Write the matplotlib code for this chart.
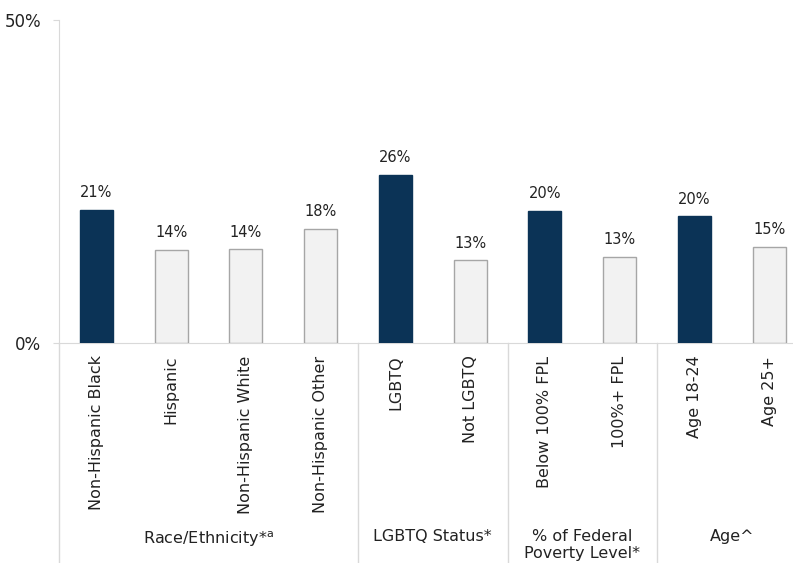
import matplotlib
matplotlib.use('Agg')
import matplotlib.pyplot as plt
import matplotlib.transforms as mtransforms

# Bar data (heights, labels as printed)
categories = ['Non-Hispanic Black', 'Hispanic', 'Non-Hispanic White', 'Non-Hispanic Other',
              'LGBTQ', 'Not LGBTQ', 'Below 100% FPL', '100%+ FPL', 'Age 18-24', 'Age 25+']
values = [20.6, 14.4, 14.5, 17.7, 26.0, 12.8, 20.4, 13.3, 19.6, 14.9]
value_labels = ['21%', '14%', '14%', '18%', '26%', '13%', '20%', '13%', '20%', '15%']
highlight = [True, False, False, False, True, False, True, False, True, False]

groups = ['Race/Ethnicity*$^{\\mathregular{a}}$', 'LGBTQ Status*',
          '% of Federal\nPoverty Level*', 'Age^']
group_sizes = [4, 2, 2, 2]

dark = '#0b3356'
light = '#f2f2f2'
edge_light = '#a6a6a6'
grid_grey = '#d9d9d9'
text_col = '#222222'

plt.rcParams['font.family'] = ['DejaVu Sans']

fig = plt.figure(figsize=(7.93, 5.63), dpi=100)
ax = fig.add_axes([59 / 793, 220 / 563, 747.5 / 793, 323 / 563])

x = list(range(len(categories)))
colors = [dark if h else light for h in highlight]
edges = [dark if h else edge_light for h in highlight]
ax.bar(x, values, width=0.44, color=colors, edgecolor=edges, linewidth=1.0, zorder=3)

for xi, v, lab in zip(x, values, value_labels):
    ax.annotate(lab, (xi, v), xytext=(0, 7), textcoords='offset points',
                ha='center', va='bottom', fontsize=10.5, color=text_col)

ax.set_xlim(-0.5, len(categories) - 0.5)
ax.set_ylim(0, 50)
ax.set_yticks([0, 50])
ax.set_yticklabels(['0%', '50%'], fontsize=12, color=text_col)
ax.tick_params(axis='y', length=4, color=grid_grey, pad=9)

ax.set_xticks(x)
ax.set_xticklabels(categories, rotation=90, fontsize=11.5, color=text_col)
ax.tick_params(axis='x', length=0, pad=9)

for s in ['top', 'right']:
    ax.spines[s].set_visible(False)
ax.spines['left'].set_color(grid_grey)
ax.spines['bottom'].set_color(grid_grey)

# group separators running down to the bottom of the figure
bottom_ax = -(220 / 563) / (323 / 563)
pos = -0.5
for size in group_sizes:
    ax.plot([pos, pos], [0, bottom_ax], transform=ax.get_xaxis_transform(),
            color=grid_grey, linewidth=1.0, clip_on=False)
    pos += size

# group labels
trans = mtransforms.blended_transform_factory(ax.transData, fig.transFigure)
start = -0.5
for name, size in zip(groups, group_sizes):
    center = start + size / 2
    ax.text(center, 1 - 529 / 563, name, transform=trans, ha='center', va='top',
            fontsize=11.5, color=text_col, linespacing=1.2)
    start += size

fig.savefig('out.png', dpi=100)
